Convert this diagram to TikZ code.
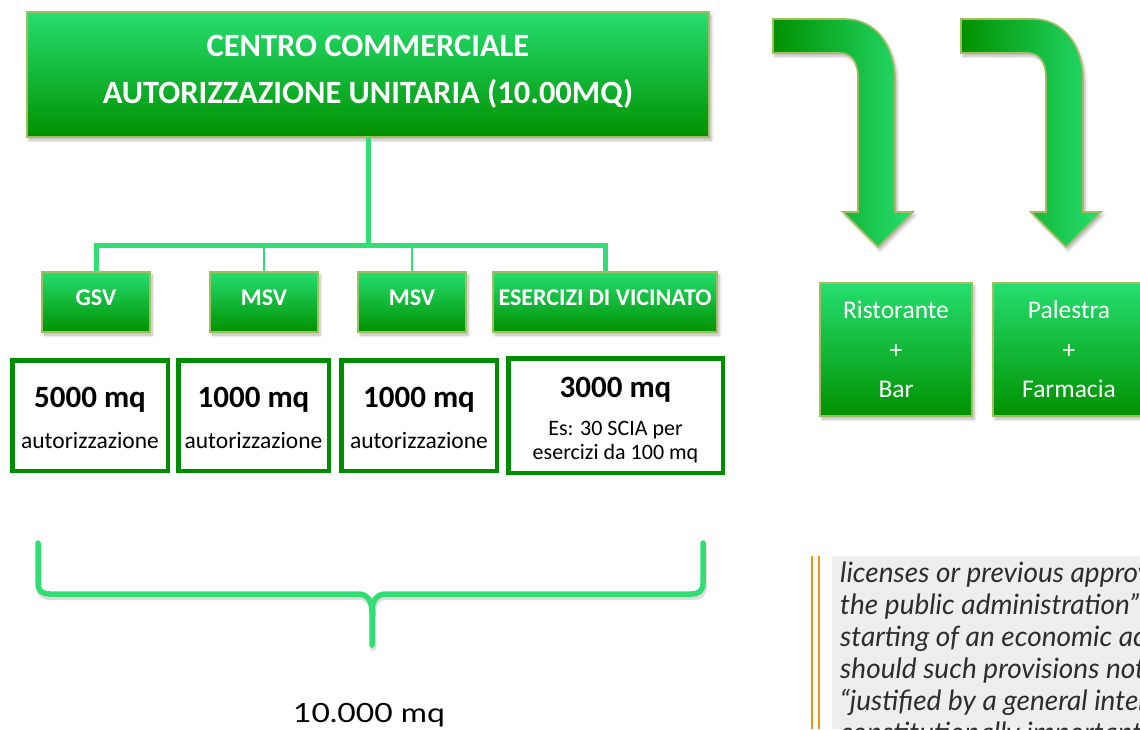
\documentclass[tikz,border=0pt]{standalone}
\usepackage{fontspec}
\setmainfont{Carlito}
\newfontfamily\quotefont{Lato}
\newfontfamily\totalfont{Lato}[FakeStretch=1.2]
\usetikzlibrary{shadows.blur}
\definecolor{gtop}{RGB}{38,222,112}
\definecolor{gbot}{RGB}{0,145,0}
\definecolor{gborder}{RGB}{160,190,95}
\definecolor{connc}{RGB}{50,222,115}
\definecolor{darkg}{RGB}{0,140,0}
\definecolor{orng}{RGB}{243,146,30}
\definecolor{qgray}{RGB}{238,238,238}
\definecolor{qtext}{RGB}{45,45,45}
\newcommand{\leftbrace}{(38,543) -- (38,583) .. controls (38,591) and (42,594) .. (50,594) -- (358,594)
  .. controls (367,594) and (372,600) .. (372,612) -- (372,645)}
\newcommand{\rightbrace}{(703,543) -- (703,583) .. controls (703,591) and (699,594) .. (691,594) -- (386,594)
  .. controls (377,594) and (372,600) .. (372,612)}
\begin{document}
\begin{tikzpicture}[x=1pt,y=-1pt,
  shadowed/.style={blur shadow={shadow xshift=2pt, shadow yshift=-3pt, shadow blur steps=6, shadow opacity=30, shadow blur radius=3pt}},
  gbox/.style={draw=gborder, line width=1.6pt, top color=gtop, bottom color=gbot, text=white, align=center, inner sep=0pt, shadowed},
  lvtwo/.style={gbox, minimum height=60pt, font=\bfseries\fontsize{24}{27}\selectfont, text height=16.5pt, text depth=10pt},
  toptext/.style={text=white, font=\bfseries\fontsize{32.5}{36}\selectfont, inner sep=0pt, anchor=base},
  conn/.style={draw=connc, line width=5pt},
  thinconn/.style={draw=connc, line width=2.2pt},
  numbox/.style={draw=darkg, line width=4.5pt, fill=white, inner sep=0pt},
  bignum/.style={font=\bfseries\fontsize{31}{36}\selectfont, inner sep=0pt, anchor=base},
  smalltxt/.style={font=\fontsize{23.5}{28}\selectfont, inner sep=0pt, anchor=base},
  esttxt/.style={font=\fontsize{22}{26}\selectfont, inner sep=0pt, anchor=base},
  bracestyle/.style={draw=connc, line width=5.5pt, line cap=round, line join=round},
  braceshadow/.style={draw=black, opacity=0.13, line width=6pt, line cap=round, line join=round},
  arrowshape/.style={draw=gborder, line width=1.6pt, left color=gbot, right color=gtop, shadowed},
  quoteline/.style={font=\quotefont\itshape\fontsize{28}{32}\selectfont, text=qtext, anchor=base west, inner sep=0pt}
]
\useasboundingbox (0,0) rectangle (1140,729);

\coordinate (bus) at (368,245);
% top box
\node[gbox, minimum width=682pt, minimum height=125pt] (top) at (368,74.5) {};
\node[toptext] (t1) at (368,56) {CENTRO COMMERCIALE};
\node[toptext] (t2) at (368,103) {AUTORIZZAZIONE UNITARIA (10.00MQ)};

% level two
\node[lvtwo, minimum width=108pt] (gsv) at (96,302) {GSV};
\node[lvtwo, minimum width=108pt] (msv1) at (264,302) {MSV};
\node[lvtwo, minimum width=108pt] (msv2) at (412,302) {MSV};
\node[lvtwo, minimum width=224pt] (ev) at (605,302) {ESERCIZI DI VICINATO};

\draw[conn] (top.south) -- (bus);
\draw[conn] (gsv.north) |- (bus) -| (ev.north);
\draw[thinconn] (msv1.north) -- (msv1.north |- bus);
\draw[thinconn] (msv2.north) -- (msv2.north |- bus);

% number boxes
\node[numbox, minimum width=155.5pt, minimum height=110.5pt] (n1) at (90,415.5) {};
\node[numbox, minimum width=150.5pt, minimum height=110.5pt] (n2) at (253.5,415.5) {};
\node[numbox, minimum width=155.5pt, minimum height=110.5pt] (n3) at (419,415.5) {};
\node[numbox, minimum width=214.5pt, minimum height=114.5pt] (n4) at (615.5,415.5) {};
\node[bignum] (n1a) at (90,407) {5000 mq};
\node[smalltxt] (n1b) at (90,448) {autorizzazione};
\node[bignum] (n2a) at (253.5,407) {1000 mq};
\node[smalltxt] (n2b) at (253.5,448) {autorizzazione};
\node[bignum] (n3a) at (419,407) {1000 mq};
\node[smalltxt] (n3b) at (419,448) {autorizzazione};
\node[bignum] (n4a) at (615.5,397) {3000 mq};
\node[esttxt] (n4b) at (615.5,435) {Es: 30 SCIA per};
\node[esttxt] (n4c) at (615.5,459) {esercizi da 100 mq};

% brace
\begin{scope}[shift={(1,3)}]
  \draw[braceshadow] \leftbrace;
  \draw[braceshadow] \rightbrace;
\end{scope}
\draw[bracestyle] \leftbrace;
\draw[bracestyle] \rightbrace;
\node[font=\totalfont\fontsize{26.5}{30}\selectfont, anchor=base, inner sep=0pt] (total) at (369,722) {10.000 mq};

% bent arrows
\foreach \dx in {0,188}{
  \begin{scope}[xshift=\dx pt]
    \path[arrowshape] (773,19) -- (845,19) .. controls (875,19) and (895,45) .. (895,80)
      -- (895,212) -- (913,212) -- (878,247) -- (843,212) -- (858,212) -- (858,77)
      .. controls (858,62) and (851,53) .. (840,53) -- (773,53) -- cycle;
  \end{scope}
}

% right boxes
\node[gbox, minimum width=152pt, minimum height=133pt, font=\fontsize{25.5}{39.5}\selectfont] (rist) at (896,349.5) {Ristorante\\+\\Bar};
\node[gbox, minimum width=152pt, minimum height=133pt, font=\fontsize{25.5}{39.5}\selectfont] (pal) at (1069,349.5) {Palestra\\+\\Farmacia};

% quote
\draw[orng, line width=1.5pt] (812,556) -- (812,729);
\draw[orng, line width=1.5pt] (819,556) -- (819,729);
\begin{scope}
  \clip (832,556) rectangle (1140,729);
  \fill[qgray] (832,556) rectangle (1140,729);
  \node[quoteline] (q1) at (840,582) {licenses or previous approvals by};
  \node[quoteline] (q2) at (840,614) {the public administration” for the};
  \node[quoteline] (q3) at (840,646) {starting of an economic activity,};
  \node[quoteline] (q4) at (840,678) {should such provisions not be};
  \node[quoteline] (q5) at (840,710) {“justified by a general interest,};
  \node[quoteline] (q6) at (840,742) {constitutionally important”};
\end{scope}
\end{tikzpicture}
\end{document}
